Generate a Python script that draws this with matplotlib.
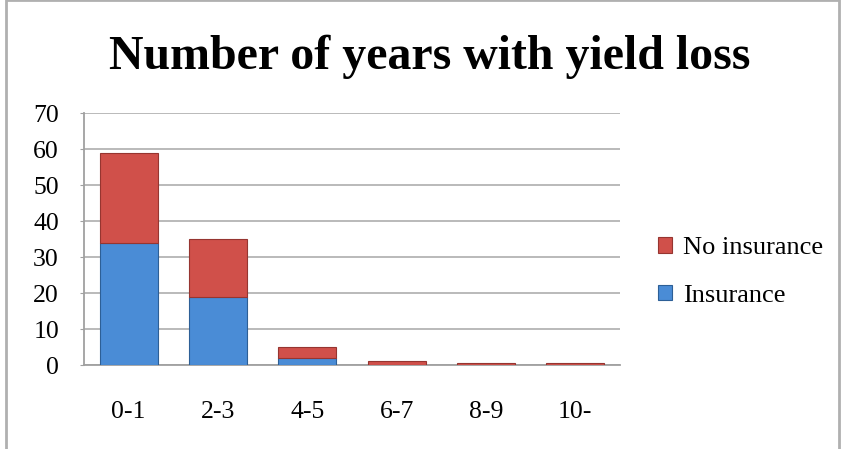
import matplotlib
matplotlib.use("Agg")
import matplotlib.pyplot as plt
import numpy as np
from matplotlib.patches import Rectangle

categories = ["0-1", "2-3", "4-5", "6-7", "8-9", "10-"]
insurance = [34, 19, 2, 0, 0, 0]
no_insurance = [25, 16, 3, 1, 0.5, 0.5]

plt.rcParams['font.family'] = ['Liberation Serif', 'DejaVu Serif']

fig = plt.figure(figsize=(8.5, 4.49), dpi=100)
ax = fig.add_axes([84 / 850, 1 - 365 / 449, (620 - 84) / 850, (365 - 113) / 449])

x = np.arange(len(categories))
width = 0.65
blue = "#4a8cd6"
red = "#d0504a"

b1 = ax.bar(x, insurance, width, color=blue, edgecolor="#2d5f96", linewidth=0.8,
            label="Insurance", zorder=3)
b2 = ax.bar(x, no_insurance, width, bottom=insurance, color=red, edgecolor="#963530",
            linewidth=0.8, label="No insurance", zorder=3)

ax.set_xlim(-0.5, len(categories) - 0.5)
ax.set_ylim(0, 70)
ax.set_yticks(range(0, 71, 10))
ax.set_xticks(x)
ax.set_xticklabels(categories)
ax.tick_params(axis="x", length=0, pad=26, labelsize=18.5)
ax.tick_params(axis="y", length=3, color="#a0a0a0", pad=15, labelsize=18.5)
ax.yaxis.grid(True, color="#b4b4b4", linewidth=1.3, zorder=0)
ax.set_axisbelow(True)
for side in ["top", "right"]:
    ax.spines[side].set_visible(False)
for side in ["left", "bottom"]:
    ax.spines[side].set_color("#a0a0a0")
    ax.spines[side].set_linewidth(1.3)

fig.text(0.505, 1 - 57 / 449, "Number of years with yield loss", ha="center", va="center",
         fontsize=34.5, fontweight="bold")

leg = fig.legend(handles=[b2, b1], labels=["No insurance", "Insurance"],
                 loc="center left", bbox_to_anchor=(634 / 850, 1 - 272 / 449),
                 frameon=False, fontsize=19, handlelength=0.55, handleheight=0.55,
                 handletextpad=0.4, labelspacing=0.95)

fig.patches.append(Rectangle((6 / 850, -0.01), 833 / 850, 1.0095, transform=fig.transFigure,
                             fill=False, edgecolor="#b0b0b0", linewidth=2))

fig.savefig("out.png", dpi=100)
